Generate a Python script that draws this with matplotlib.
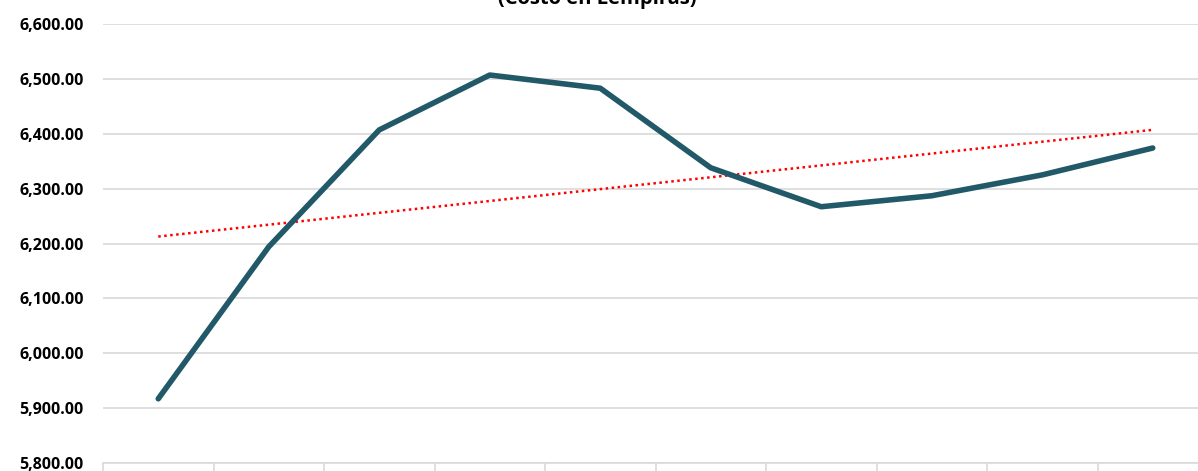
import numpy as np
import matplotlib.pyplot as plt
from matplotlib.ticker import FuncFormatter

# valores
periodos = list(range(1, 11))
costos = [5917, 6194, 6407, 6507, 6483, 6338, 6267, 6287, 6325, 6374]
titulo = "(Costo en Lempiras)"


def main():
    fig = plt.figure(figsize=(11.98, 4.71), dpi=100)
    ax = fig.add_axes([103 / 1198, 8 / 471, 1105 / 1198, 439 / 471])

    x = np.array(periodos)
    y = np.array(costos)

    ax.plot(x, y, color='#215968', linewidth=4.0, solid_capstyle='round',
            solid_joinstyle='round', zorder=3)

    # linea de tendencia lineal
    m, b = np.polyfit(x, y, 1)
    ax.plot(x[[0, -1]], m * x[[0, -1]] + b, color='#ff0000', linewidth=1.8,
            linestyle=(0, (1, 1.4)), zorder=2)

    ax.set_xlim(0.5, len(periodos) + 0.5)
    ax.set_ylim(5800, 6600)
    ax.set_yticks(np.arange(5800, 6601, 100))
    ax.yaxis.set_major_formatter(FuncFormatter(lambda v, p: f"{v:,.2f}"))
    ax.grid(axis='y', color='#d9d9d9', linewidth=1.2)
    ax.set_axisbelow(True)

    # marcas de categoria entre periodos
    ax.set_xticks(np.arange(0.5, len(periodos) + 1, 1))
    ax.set_xticklabels([])
    ax.tick_params(axis='x', length=8, color='#d9d9d9', width=1.2, direction='out')
    ax.tick_params(axis='y', length=0, pad=14)
    for lbl in ax.get_yticklabels():
        lbl.set_fontweight('bold')
        lbl.set_fontsize(11.5)
        lbl.set_fontfamily('Open Sans')

    for s in ['top', 'right', 'left']:
        ax.spines[s].set_visible(False)
    ax.spines['bottom'].set_color('#d9d9d9')
    ax.spines['bottom'].set_linewidth(1.2)

    fig.text(597 / 1198, 1.003, titulo, ha='center', va='center',
             fontsize=14.5, fontweight='bold', family='Open Sans')

    fig.savefig('out.png', dpi=100)


if __name__ == "__main__":
    main()
